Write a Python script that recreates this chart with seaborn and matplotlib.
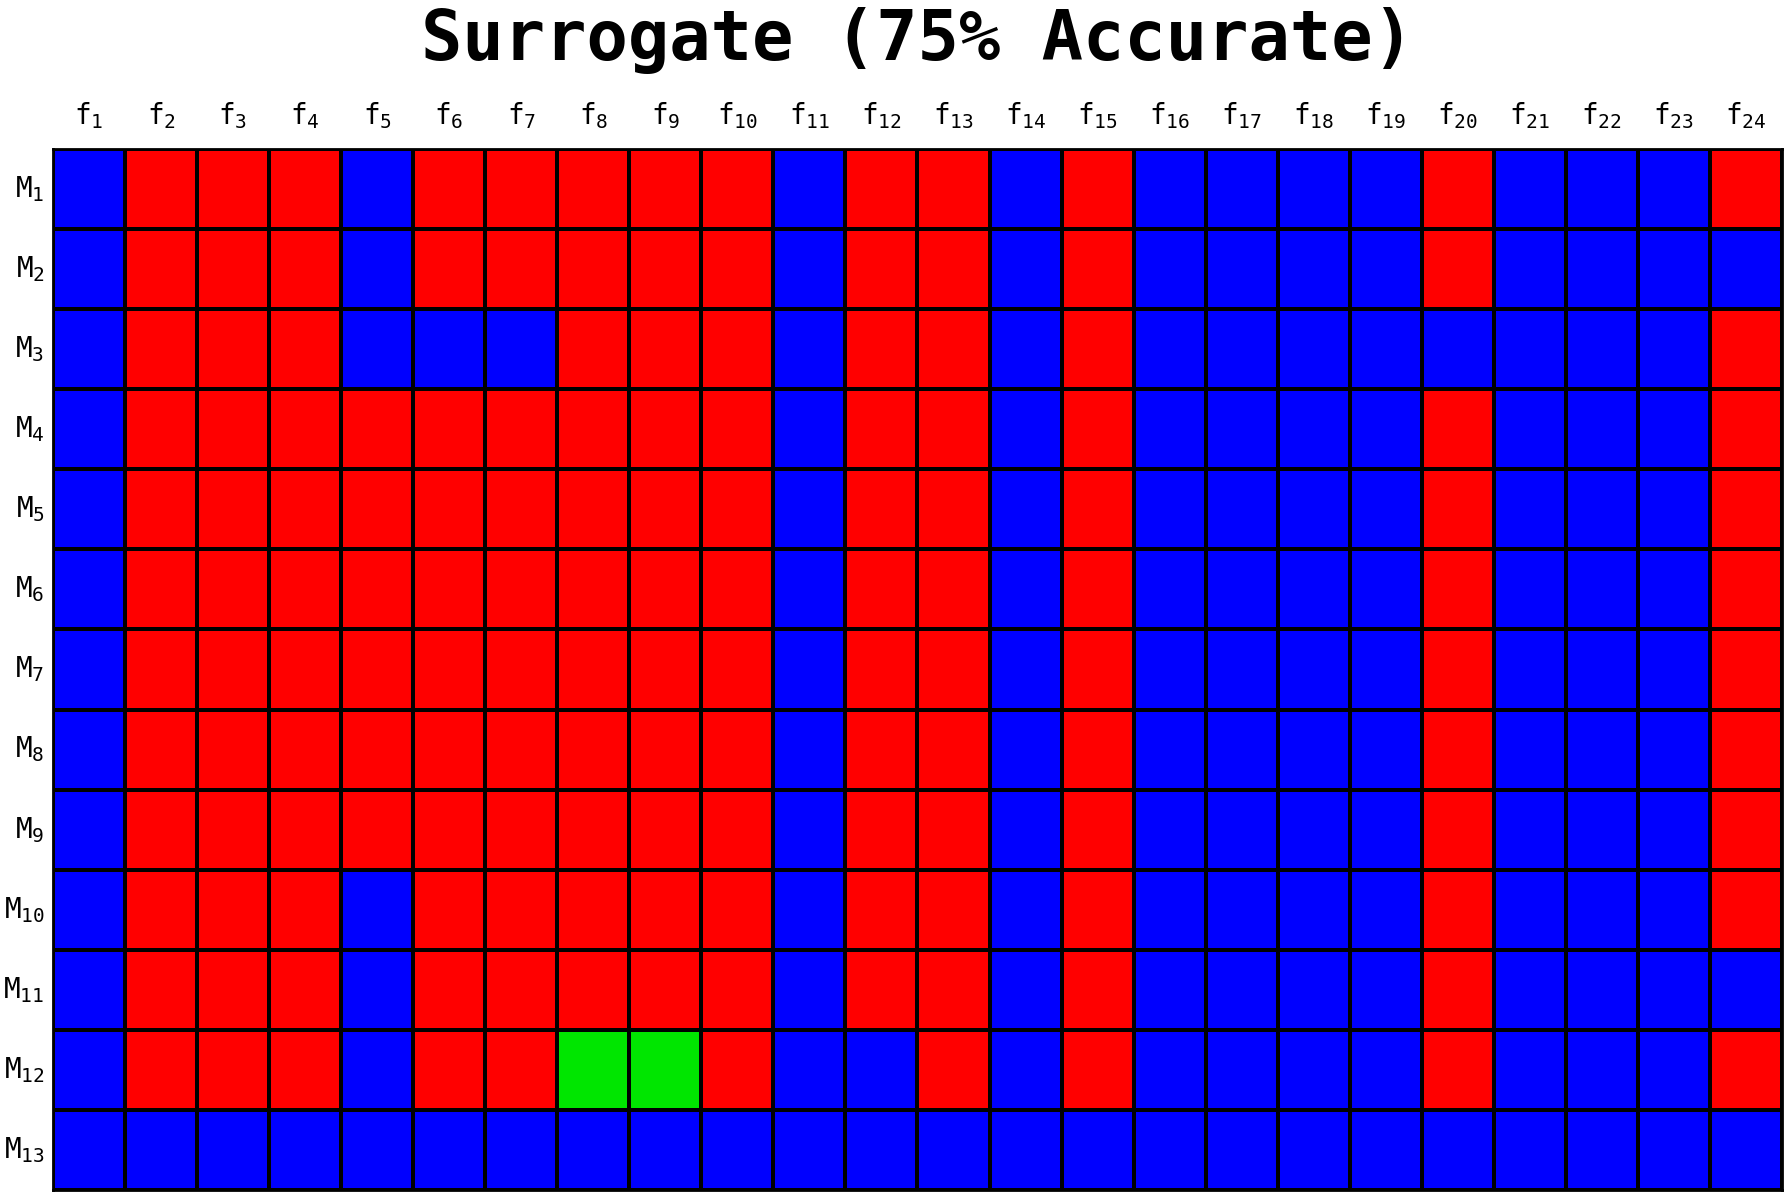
import numpy as np
import matplotlib.pyplot as plt
import seaborn as sns
from matplotlib.colors import ListedColormap

# B = blue (0), R = red (1), G = green (2)
rows = [
    "BRRRBRRRRRBRRBRBBBBRBBBR",
    "BRRRBRRRRRBRRBRBBBBRBBBB",
    "BRRRBBBRRRBRRBRBBBBBBBBR",
    "BRRRRRRRRRBRRBRBBBBRBBBR",
    "BRRRRRRRRRBRRBRBBBBRBBBR",
    "BRRRRRRRRRBRRBRBBBBRBBBR",
    "BRRRRRRRRRBRRBRBBBBRBBBR",
    "BRRRRRRRRRBRRBRBBBBRBBBR",
    "BRRRRRRRRRBRRBRBBBBRBBBR",
    "BRRRBRRRRRBRRBRBBBBRBBBR",
    "BRRRBRRRRRBRRBRBBBBRBBBB",
    "BRRRBRRGGRBBRBRBBBBRBBBR",
    "BBBBBBBBBBBBBBBBBBBBBBBB",
]
code = {"B": 0, "R": 1, "G": 2}
grid = np.array([[code[c] for c in r] for r in rows])

col_labels = [r"$\mathregular{f_{%d}}$" % i for i in range(1, 25)]
row_labels = [r"$\mathregular{M_{%d}}$" % i for i in range(1, 14)]
title = "Surrogate (75% Accurate)"

plt.rcParams['font.family'] = ['DejaVu Sans Mono']

fig = plt.figure(figsize=(17.84, 11.92), dpi=100)
ax = fig.add_axes([53 / 1784, 2 / 1192, 1729 / 1784, 1041 / 1192])

cmap = ListedColormap(['#0000ff', '#ff0000', '#00e600'])
sns.heatmap(grid, ax=ax, cmap=cmap, vmin=-0.5, vmax=2.5, cbar=False,
            linewidths=1.5, linecolor='black',
            xticklabels=col_labels, yticklabels=row_labels)

ax.xaxis.tick_top()
ax.tick_params(axis='both', length=0, labelsize=20)
ax.tick_params(axis='x', pad=13)
ax.tick_params(axis='y', pad=6)
plt.setp(ax.get_yticklabels(), rotation=0)
plt.setp(ax.get_xticklabels(), rotation=0)

for s in ax.spines.values():
    s.set_visible(True)
    s.set_color('black')
    s.set_linewidth(2)

ax_mid = (53 + 1782) / 2 / 1784
fig.text(ax_mid, 0.966, title, ha='center', va='center', fontsize=49.5, fontweight='bold')

fig.savefig('out.png', dpi=100)
